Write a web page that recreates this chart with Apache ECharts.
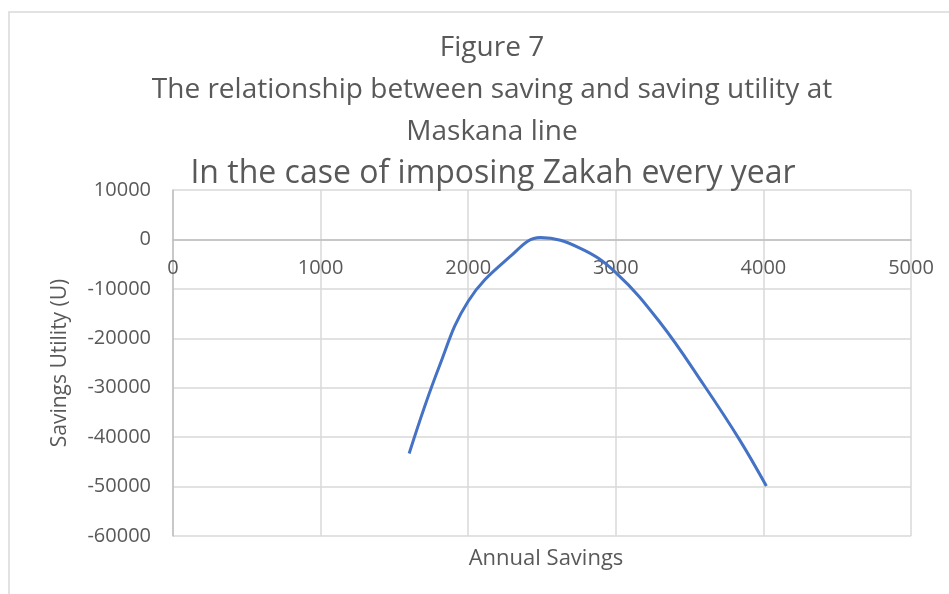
<!DOCTYPE html>
<html>
<head>
<meta charset="utf-8">
<script src="https://cdn.jsdelivr.net/npm/echarts@6/dist/echarts.min.js"></script>
<style>
  html, body { margin: 0; padding: 0; background: #fff; }
  #chart { width: 949px; height: 594px; }
</style>
</head>
<body>
<div id="chart"></div>
<script>
// values
const savings = [1600, 1800, 2000, 2283, 2490, 2760, 3000, 3300, 3600, 3840, 4020];
const utility = [-43300, -26000, -12500, -3500, 400, -1800, -6700, -16800, -29600, -40600, -49900];

const titleLines = [
  'Figure 7',
  'The relationship between saving and saving utility at',
  'Maskana line'
];
const subTitle = 'In the case of imposing Zakah every year';
const xName = 'Annual Savings';
const yName = 'Savings Utility (U)';

const font = '"Open Sans", sans-serif';
const grey = '#595959';

const chart = echarts.init(document.getElementById('chart'));

// the value axis crosses at y = 0, which sits 296px above the plot bottom
const zeroOffset = -296;

const option = {
  animation: false,
  backgroundColor: '#fff',
  title: [
    {
      text: titleLines.join('\n'),
      left: 487,
      top: 22,
      textAlign: 'center',
      textStyle: { fontFamily: font, fontWeight: 'normal', fontSize: 28, lineHeight: 42, color: grey }
    },
    {
      text: subTitle,
      left: 488,
      top: 153,
      textAlign: 'center',
      textStyle: { fontFamily: font, fontWeight: 'normal', fontSize: 32, color: grey }
    },
    {
      text: xName,
      left: 541,
      top: 543,
      textAlign: 'center',
      textStyle: { fontFamily: font, fontWeight: 'normal', fontSize: 22, color: grey }
    }
  ],
  graphic: [
    {
      type: 'polyline',
      shape: { points: [[9, 594], [9, 12], [949, 12]] },
      style: { stroke: '#d9d9d9', lineWidth: 1.5, fill: null }
    }
  ],
  grid: { left: 173, right: 38, top: 190, bottom: 58 },
  xAxis: {
    type: 'value',
    min: 0,
    max: 5000,
    interval: 1000,
    offset: zeroOffset,
    axisLine: { onZero: false, lineStyle: { color: '#bfbfbf', width: 1.5 } },
    axisTick: { show: false },
    axisLabel: { color: grey, fontFamily: font, fontSize: 20, margin: 18, formatter: v => String(v) },
    splitLine: { show: true, lineStyle: { color: '#d9d9d9', width: 1.5 } }
  },
  yAxis: {
    type: 'value',
    min: -60000,
    max: 10000,
    interval: 10000,
    name: yName,
    nameLocation: 'middle',
    nameGap: 102,
    nameTextStyle: { color: grey, fontFamily: font, fontSize: 21 },
    axisLine: { show: true, onZero: false, lineStyle: { color: '#bfbfbf', width: 1.5 } },
    axisTick: { show: false },
    axisLabel: { color: grey, fontFamily: font, fontSize: 20, margin: 22, formatter: v => String(v) },
    splitLine: { show: true, lineStyle: { color: '#d9d9d9', width: 1.5 } }
  },
  series: [
    {
      type: 'line',
      data: savings.map((s, i) => [s, utility[i]]),
      smooth: 0.4,
      showSymbol: false,
      lineStyle: { color: '#4472c4', width: 3 }
    }
  ]
};

chart.setOption(option);
window.addEventListener('resize', () => chart.resize());
</script>
</body>
</html>
